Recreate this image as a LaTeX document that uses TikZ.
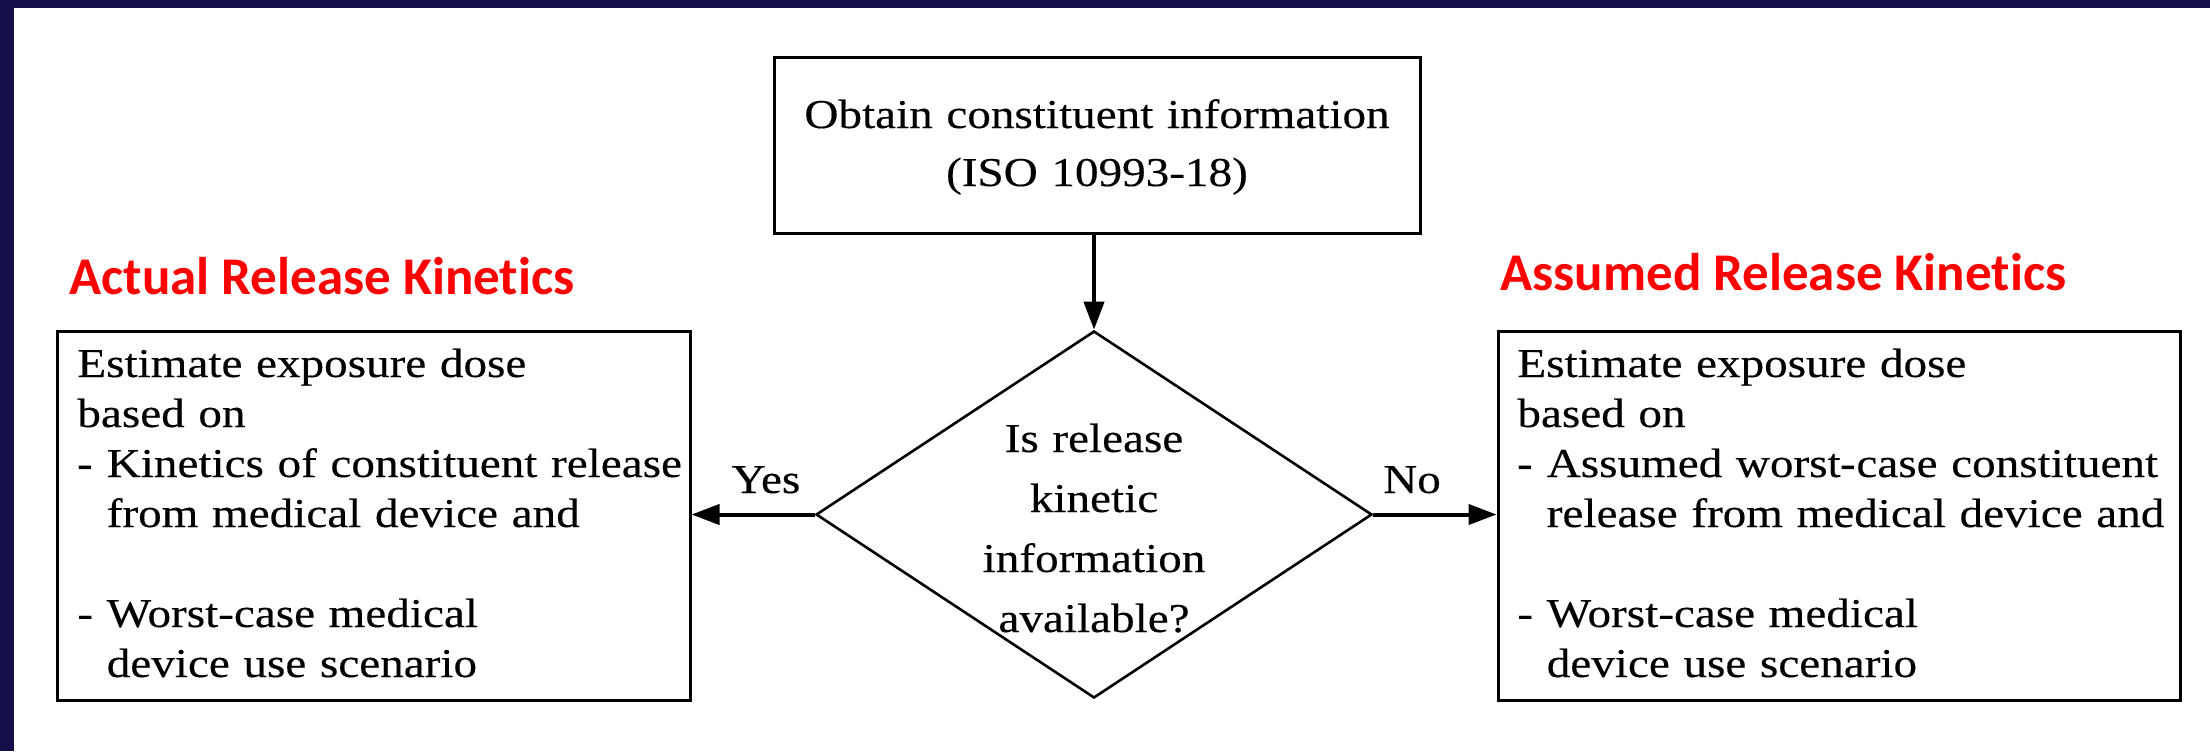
\documentclass[tikz,border=0pt]{standalone}
\usepackage{fontspec}
\setmainfont{Liberation Serif}[FakeStretch=1.15,UprightFeatures={FakeBold=0.3}]
\newfontfamily\titlefont{Carlito}[Ligatures=NoCommon]
\usetikzlibrary{arrows.meta,shapes.geometric}
\definecolor{navy}{RGB}{20,14,75}
\definecolor{titlered}{RGB}{255,0,0}
\begin{document}
\begin{tikzpicture}[x=0.5pt,y=-0.5pt,
  box/.style={draw=black,line width=1.5pt,inner sep=0pt,rectangle},
  decision/.style={draw=black,line width=1.3pt,diamond,inner sep=0pt,minimum width=278pt,minimum height=183.5pt},
  body/.style={font=\fontsize{20.5}{25}\selectfont,inner sep=0pt,align=left,text width=335pt,anchor=base west},
  ctext/.style={inner sep=0pt,align=center,text width=320pt,anchor=base},
  lbl/.style={font=\fontsize{20.5}{25}\selectfont,inner sep=0pt,anchor=base},
  arr/.style={line width=2pt,-{Triangle[length=14pt,width=10pt]}},
  ttl/.style={font=\titlefont\bfseries\fontsize{26.5}{30}\selectfont,text=titlered,inner sep=0pt,anchor=base west},
]
\useasboundingbox (0,0) rectangle (2210,751);
\fill[white] (0,0) rectangle (2210,751);
\fill[navy] (0,0) rectangle (2210,8);
\fill[navy] (0,0) rectangle (14,751);

% boxes
\node[box,minimum width=323pt,minimum height=88pt] (top) at (1097,145) {};
\node[ctext,font=\fontsize{20.5}{29}\selectfont] (toptext) at (1097,128) {Obtain constituent information\\(ISO 10993-18)};

\node[decision] (dia) at (1094,514.5) {};
\node[ctext,text width=220pt,font=\fontsize{20.5}{30}\selectfont] (diatext) at (1094,452) {Is release\\kinetic\\information\\available?};

\node[box,minimum width=316.5pt,minimum height=184.5pt] (lbox) at (373.5,515.5) {};
\node[body] (ltext) at (77,377) {Estimate exposure dose\\based on\\{\bfseries -} Kinetics of constituent release\\\phantom{-}\ from medical device and\\[25pt]- Worst-case medical\\\phantom{-}\ device use scenario};

\node[box,minimum width=341pt,minimum height=184.5pt] (rbox) at (1839,515.5) {};
\node[body] (rtext) at (1517,377) {Estimate exposure dose\\based on\\{\bfseries -} Assumed worst{\bfseries -}case constituent\\\phantom{-}\ release from medical device and\\[25pt]- Worst-case medical\\\phantom{-}\ device use scenario};

% titles
\node[ttl] (ltitle) at (69,294) {Actual Release Kinetics};
\node[ttl] (rtitle) at (1500,290) {Assumed Release Kinetics};

% connectors
\draw[arr] (dia.north |- top.south) -- (dia.north);
\draw[arr] (dia.west) -- (lbox.east |- dia.west);
\draw[arr] (dia.east) -- (rbox.west |- dia.east);

\node[lbl] (yes) at (766,493) {Yes};
\node[lbl] (no) at (1412,493) {No};
\end{tikzpicture}
\end{document}
